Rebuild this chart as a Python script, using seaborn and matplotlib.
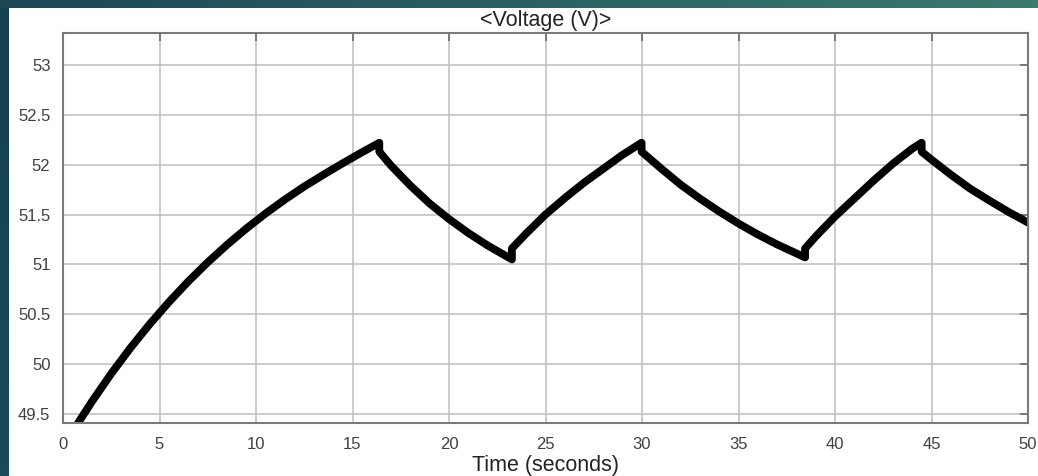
import numpy as np
import pandas as pd
import matplotlib
matplotlib.use("Agg")
import matplotlib.pyplot as plt
from matplotlib.colors import LinearSegmentedColormap
import seaborn as sns

# ---- data ----
time_s = [0.78, 1.5, 2.5, 3.5, 4.5, 5.5, 6.5, 7.5, 8.5, 9.5, 10.5, 11.5, 12.5, 13.5, 14.5, 15.5, 16.39,
          16.39, 17.0, 18.0, 19.0, 20.0, 21.0, 22.0, 23.26,
          23.26, 24.0, 25.0, 26.0, 27.0, 28.0, 29.0, 29.98,
          29.98, 31.0, 32.0, 33.0, 34.0, 35.0, 36.0, 37.0, 38.45,
          38.45, 39.0, 40.0, 41.0, 42.0, 43.0, 44.0, 44.49,
          44.49, 45.0, 46.0, 47.0, 48.0, 49.0, 50.0]
voltage_v = [49.41, 49.625, 49.905, 50.164, 50.403, 50.625, 50.831, 51.021, 51.197, 51.36, 51.511, 51.651,
             51.781, 51.90, 52.015, 52.125, 52.22,
             52.13, 51.99, 51.79, 51.61, 51.455, 51.315, 51.19, 51.05,
             51.16, 51.31, 51.50, 51.665, 51.82, 51.96, 52.10, 52.22,
             52.13, 51.96, 51.80, 51.66, 51.53, 51.41, 51.30, 51.20, 51.07,
             51.16, 51.28, 51.48, 51.66, 51.84, 52.01, 52.16, 52.22,
             52.13, 52.05, 51.90, 51.76, 51.64, 51.525, 51.42]
x_ticks = [0, 5, 10, 15, 20, 25, 30, 35, 40, 45, 50]
y_ticks = [49.5, 50, 50.5, 51, 51.5, 52, 52.5, 53]
title_text = "<Voltage (V)>"
xlabel_text = "Time (seconds)"

df = pd.DataFrame({"t": time_s, "v": voltage_v})

sns.set_style("white")
plt.rcParams['font.family'] = ['Liberation Sans', 'DejaVu Sans']

W, H = 1038, 476
fig = plt.figure(figsize=(W / 100, H / 100), dpi=100)
fig.patch.set_facecolor("white")

# decorative teal frame (top strip gradient + left strip)
top_ax = fig.add_axes([0, 1 - 8 / H, 1, 8 / H])
grad = np.linspace(0, 1, 256).reshape(1, -1)
cmap = LinearSegmentedColormap.from_list("teal", ["#1b4856", "#2a6065", "#3b7a6f"])
top_ax.imshow(grad, aspect="auto", cmap=cmap, extent=[0, 1, 0, 1])
top_ax.set_axis_off()
left_ax = fig.add_axes([0, 0, 9 / W, 1 - 8 / H])
left_ax.imshow(np.linspace(0, 1, 64).reshape(-1, 1), aspect="auto",
               cmap=LinearSegmentedColormap.from_list("tl", ["#163f4f", "#1c4a59"]), extent=[0, 1, 0, 1])
left_ax.set_axis_off()

ax = fig.add_axes([63 / W, 1 - 423 / H, (1028 - 63) / W, (423 - 33) / H])
sns.lineplot(data=df, x="t", y="v", sort=False, estimator=None, ax=ax,
             color="black", linewidth=5.6)

ax.set_xlim(0, 50)
ax.set_ylim(49.41, 53.32)
ax.set_xticks(x_ticks)
ax.set_xticklabels([f"{t:g}" for t in x_ticks])
ax.set_yticks(y_ticks)
ax.set_yticklabels([f"{t:g}" for t in y_ticks])
ax.grid(True, color="#bdbdbd", linewidth=1.1)
ax.set_axisbelow(True)
for s in ax.spines.values():
    s.set_visible(True)
    s.set_color("#7a7a7a")
    s.set_linewidth(1.5)
ax.tick_params(axis="both", direction="in", length=6, width=1.2, color="#6a6a6a",
               top=True, right=True, labelsize=12, labelcolor="#404040")
ax.tick_params(axis="x", pad=10)
ax.tick_params(axis="y", pad=9)
ax.set_xlabel(xlabel_text, fontsize=15.5, color="#222222", labelpad=2)
ax.set_ylabel("")
ax.set_title(title_text, fontsize=15.5, color="#222222", pad=5)

fig.savefig("out.png", dpi=100)
